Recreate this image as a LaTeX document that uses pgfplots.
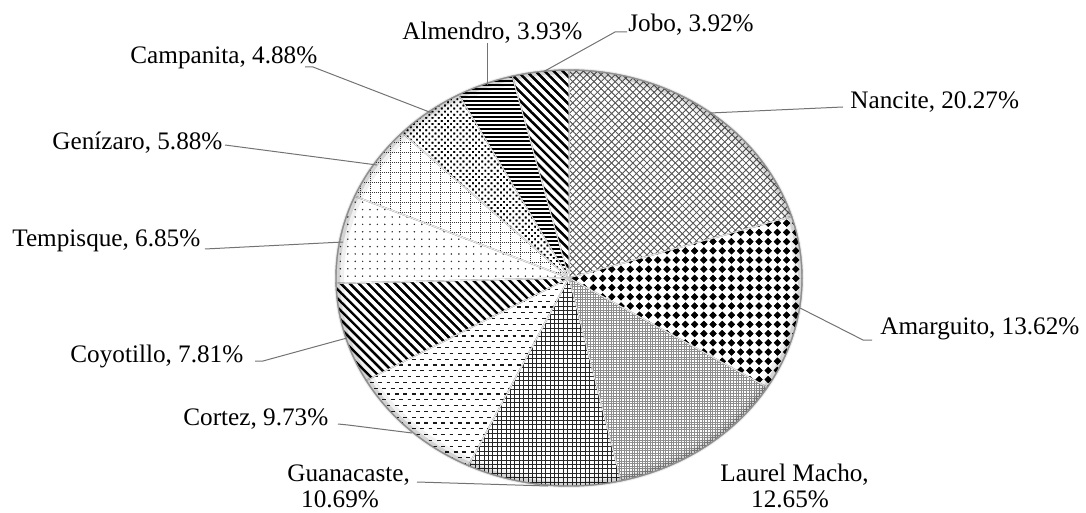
\documentclass[border=0pt]{standalone}
\usepackage{fontspec}
\setmainfont{Liberation Serif}
\usepackage{pgfplots}
\pgfplotsset{compat=1.18}
\usetikzlibrary{patterns,patterns.meta}

% filled diamonds on a square grid
\pgfdeclarepatternformonly{diamonds}{\pgfpoint{-0.1pt}{-0.1pt}}{\pgfpoint{4.7pt}{4.7pt}}{\pgfpoint{4.6pt}{4.6pt}}{%
  \pgfpathmoveto{\pgfpoint{2.3pt}{0.5pt}}%
  \pgfpathlineto{\pgfpoint{4.1pt}{2.3pt}}%
  \pgfpathlineto{\pgfpoint{2.3pt}{4.1pt}}%
  \pgfpathlineto{\pgfpoint{0.5pt}{2.3pt}}%
  \pgfpathclose\pgfusepath{fill}}
% staggered short horizontal dashes
\pgfdeclarepatternformonly{hdashes}{\pgfpoint{-0.1pt}{-0.5pt}}{\pgfpoint{4.3pt}{6.3pt}}{\pgfpoint{4.2pt}{5.8pt}}{%
  \pgfsetlinewidth{0.6pt}%
  \pgfpathmoveto{\pgfpoint{0.1pt}{1.45pt}}\pgfpathlineto{\pgfpoint{2.0pt}{1.45pt}}%
  \pgfpathmoveto{\pgfpoint{2.2pt}{4.35pt}}\pgfpathlineto{\pgfpoint{4.1pt}{4.35pt}}%
  \pgfusepath{stroke}}
% grid of dotted lines
\pgfdeclarepatternformonly{dotgrid}{\pgfpoint{-0.2pt}{-0.2pt}}{\pgfpoint{5.2pt}{5.2pt}}{\pgfpoint{5pt}{5pt}}{%
  \pgfsetlinewidth{0.45pt}\pgfsetdash{{0.45pt}{0.55pt}}{0pt}%
  \pgfpathmoveto{\pgfpoint{0pt}{0.3pt}}\pgfpathlineto{\pgfpoint{5pt}{0.3pt}}%
  \pgfpathmoveto{\pgfpoint{0.3pt}{0pt}}\pgfpathlineto{\pgfpoint{0.3pt}{5pt}}%
  \pgfusepath{stroke}}

% pie geometry (pixel-like axis units): centre and radii
\newcommand\cx{569}
\newcommand\cy{278}
\newcommand\rx{233}
\newcommand\ry{208}
\newcommand\total{100.23}

% one slice between two cumulative percentages, clockwise from the top
\newcommand\slice[3]{%
  \addplot[#3, draw=black!30, line width=0.7pt,
    postaction={draw=white, line width=0.3pt},
    domain={90-360*#2/\total}:{90-360*#1/\total}, samples=60, variable=\t]
    ({\cx+\rx*cos(\t)}, {\cy-\ry*sin(\t)}) -- (axis cs:\cx,\cy) -- cycle;
}

\begin{document}
\begin{tikzpicture}[font=\fontsize{12.6pt}{15pt}\selectfont]
\begin{axis}[name=ax, hide axis, scale only axis,
  width=543pt, height=256.5pt,
  xmin=0, xmax=1086, ymin=0, ymax=513, y dir=reverse, clip=false]

% share of each species (%), cumulative from the top, clockwise
% Nancite 20.27, Amarguito 13.62, Laurel Macho 12.65, Guanacaste 10.69,
% Cortez 9.73, Coyotillo 7.81, Tempisque 6.85, Genizaro 5.88,
% Campanita 4.88, Almendro 3.93, Jobo 3.92
\slice{0}{20.27}{pattern={Hatch[angle=45,distance=2.5pt,line width=0.32pt]}, pattern color=black!65}
\slice{20.27}{33.89}{pattern=diamonds, pattern color=black}
\slice{33.89}{46.54}{pattern={Hatch[angle=0,distance=1.3pt,line width=0.3pt]}, pattern color=black!45}
\slice{46.54}{57.23}{pattern={Hatch[angle=0,distance=2.2pt,line width=0.5pt]}, pattern color=black!85}
\slice{57.23}{66.96}{pattern=hdashes, pattern color=black!90}
\slice{66.96}{74.77}{pattern={Lines[angle=-45,distance=3.2pt,line width=1.1pt]}, pattern color=black}
\slice{74.77}{81.62}{pattern={Dots[distance=3.7pt,radius=0.35pt]}, pattern color=black!80}
\slice{81.62}{87.50}{pattern=dotgrid, pattern color=black!80}
\slice{87.50}{92.38}{pattern={Dots[angle=45,distance=2.2pt,radius=0.6pt]}, pattern color=black}
\slice{92.38}{96.31}{pattern={Lines[angle=0,distance=2pt,line width=0.7pt]}, pattern color=black}
\slice{96.31}{100.23}{pattern={Lines[angle=-45,distance=3.2pt,line width=1.1pt]}, pattern color=black}

% soft rim
\addplot[draw=black, opacity=0.06, line width=5pt, domain=0:360, samples=180, variable=\t]
  ({\cx+(\rx-3)*cos(\t)}, {\cy-(\ry-3)*sin(\t)});
\addplot[draw=black, opacity=0.12, line width=2.5pt, domain=0:360, samples=180, variable=\t]
  ({\cx+(\rx-1.5)*cos(\t)}, {\cy-(\ry-1.5)*sin(\t)});
\addplot[draw=black!45, line width=0.5pt, domain=0:360, samples=180, variable=\t]
  ({\cx+\rx*cos(\t)}, {\cy-\ry*sin(\t)});

% leader lines
\addplot[black!55, line width=0.5pt] coordinates {(843,107) (710,113)};
\addplot[black!55, line width=0.5pt] coordinates {(872,340) (863,340) (800,308)};
\addplot[black!55, line width=0.5pt] coordinates {(417,482) (548,486)};
\addplot[black!55, line width=0.5pt] coordinates {(338,424) (348,425) (412,433)};
\addplot[black!55, line width=0.5pt] coordinates {(255,361) (263,361) (347,338)};
\addplot[black!55, line width=0.5pt] coordinates {(205,249) (343,242)};
\addplot[black!55, line width=0.5pt] coordinates {(225,145) (377,165)};
\addplot[black!55, line width=0.5pt] coordinates {(305,67) (313,67) (432,113)};
\addplot[black!55, line width=0.5pt] coordinates {(487,43) (487,85)};
\addplot[black!55, line width=0.5pt] coordinates {(627,32) (615,32) (543,72)};

% labels
\node[anchor=base west, inner sep=0pt] at (axis cs:850,109) {Nancite, 20.27\%};
\node[anchor=base west, inner sep=0pt] at (axis cs:880,334) {Amarguito, 13.62\%};
\node[anchor=base west, inner sep=0pt] at (axis cs:720,481) {Laurel Macho,};
\node[anchor=base, inner sep=0pt] at (axis cs:790,507) {12.65\%};
\node[anchor=base west, inner sep=0pt] at (axis cs:287,481) {Guanacaste,};
\node[anchor=base, inner sep=0pt] at (axis cs:340,507) {10.69\%};
\node[anchor=base west, inner sep=0pt] at (axis cs:183,425) {Cortez, 9.73\%};
\node[anchor=base west, inner sep=0pt] at (axis cs:70,362) {Coyotillo, 7.81\%};
\node[anchor=base west, inner sep=0pt] at (axis cs:12,247) {Tempisque, 6.85\%};
\node[anchor=base west, inner sep=0pt] at (axis cs:52,150) {Genízaro, 5.88\%};
\node[anchor=base west, inner sep=0pt] at (axis cs:130,64) {Campanita, 4.88\%};
\node[anchor=base west, inner sep=0pt] at (axis cs:402,40) {Almendro, 3.93\%};
\node[anchor=base west, inner sep=0pt] at (axis cs:628,32) {Jobo, 3.92\%};
\end{axis}
\pgfresetboundingbox
\path (ax.south west) rectangle (ax.north east);
\end{tikzpicture}
\end{document}
